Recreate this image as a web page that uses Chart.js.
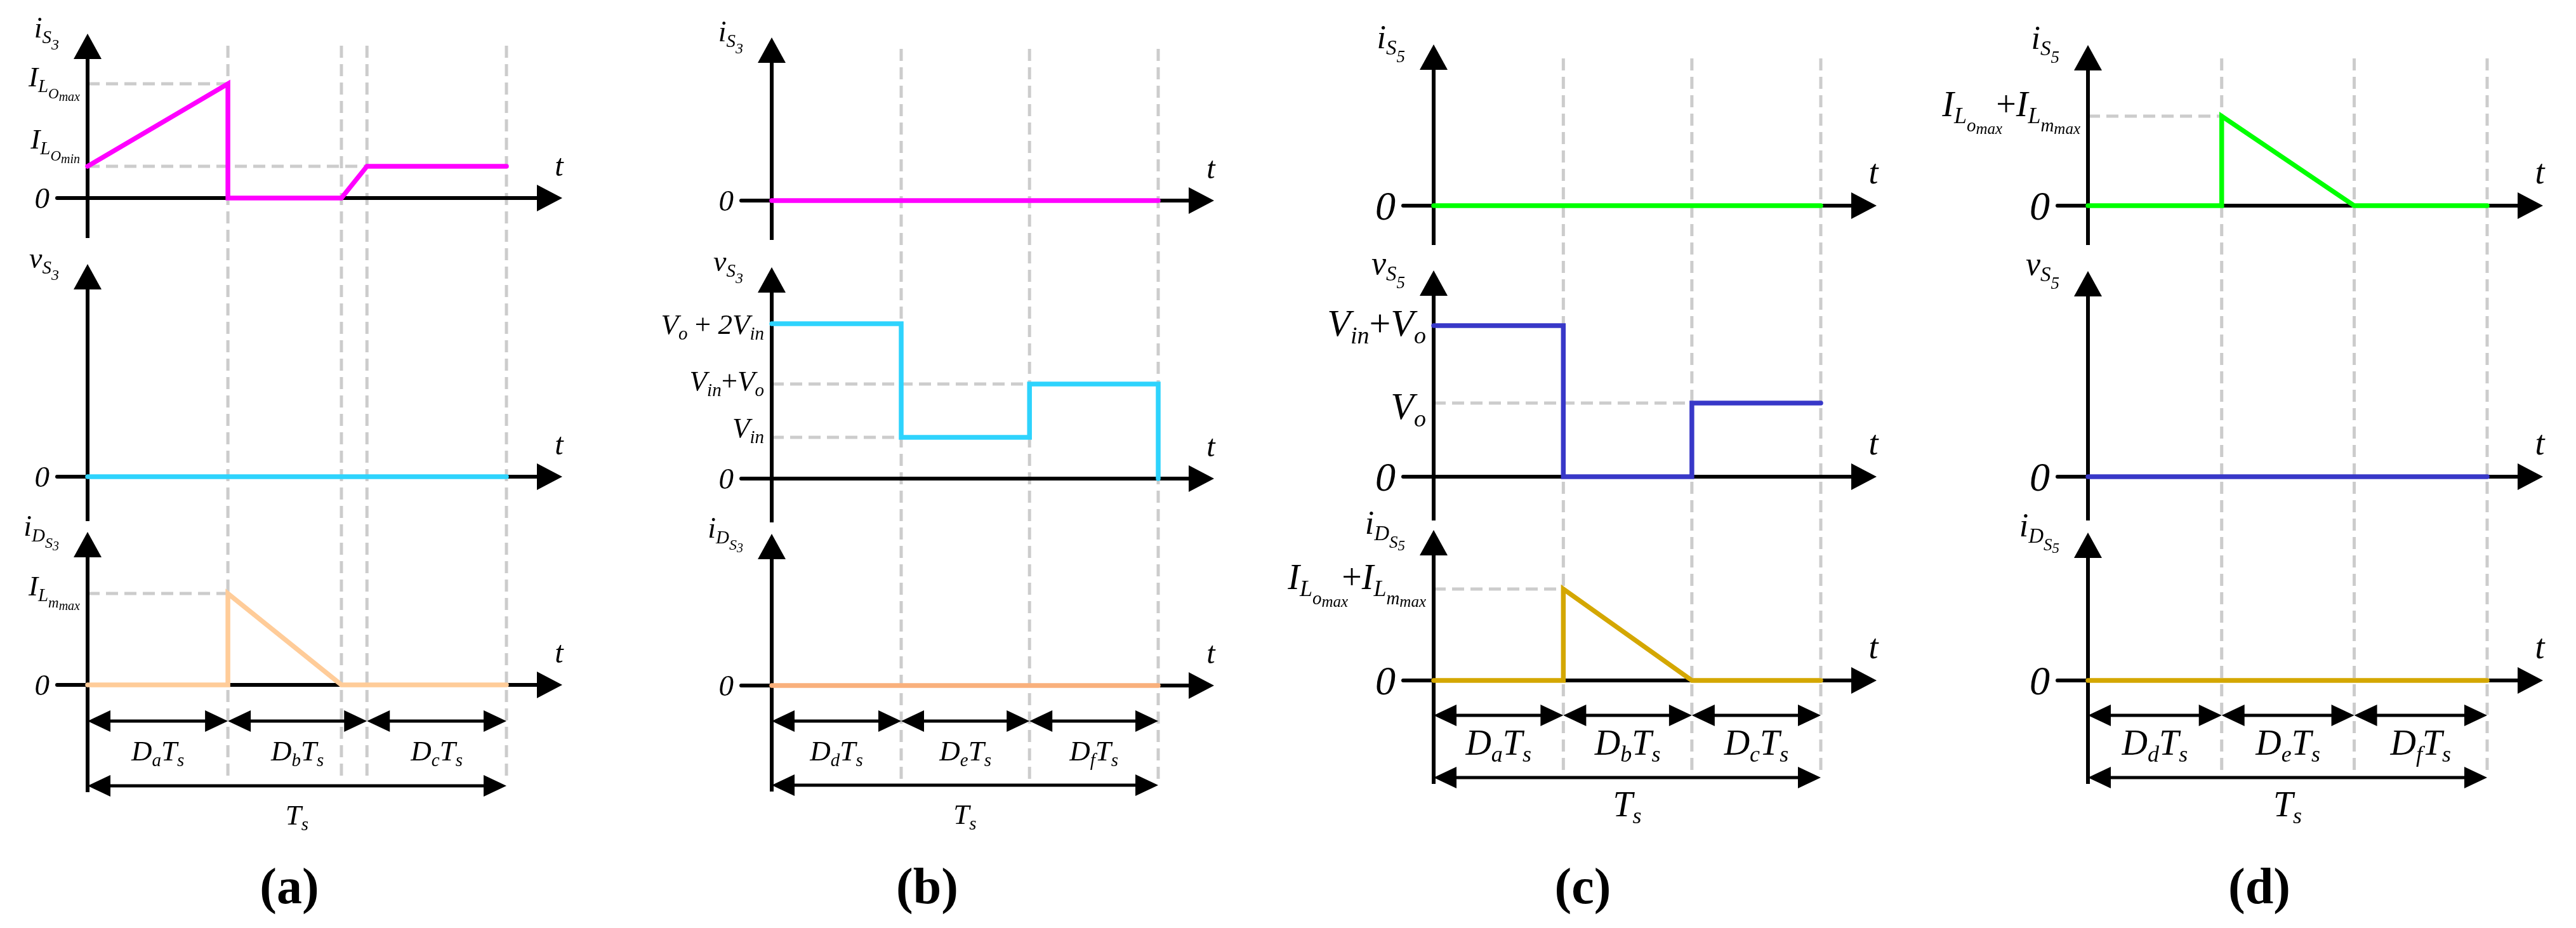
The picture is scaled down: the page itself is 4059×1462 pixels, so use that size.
<!DOCTYPE html>
<html>
<head>
<meta charset="utf-8">
<title>Switch waveforms (a)-(d)</title>
<script src="https://cdn.jsdelivr.net/npm/chart.js@4.4.1/dist/chart.umd.min.js"></script>
<style>
  html, body { margin: 0; padding: 0; background: #fff; }
  #stage { position: relative; width: 4059px; height: 1462px; overflow: hidden; background: #fff; }
  #stage canvas { position: absolute; top: 0; }
</style>
</head>
<body>
<div id="stage"></div>
<script>

// panel (a)
const tA_iS3 = [0, 0.335, 0.335, 0.606, 0.667, 1];
const yA_iS3 = [0.50, 1.80, 0, 0, 0.50, 0.50];
const tA_vS3 = [0, 1];
const yA_vS3 = [0, 0];
const tA_iD = [0, 0.335, 0.335, 0.606, 1];
const yA_iD = [0, 0, 1.44, 0, 0];

// panel (b)
const tB_iS3 = [0, 1];
const yB_iS3 = [0, 0];
const tB_vS3 = [0, 0.335, 0.335, 0.667, 0.667, 1, 1];
const yB_vS3 = [2.44, 2.44, 0.65, 0.65, 1.49, 1.49, 0];
const tB_iD = [0, 1];
const yB_iD = [0, 0];

// panel (c)
const tC_iS5 = [0, 1];
const yC_iS5 = [0, 0];
const tC_vS5 = [0, 0.335, 0.335, 0.667, 0.667, 1];
const yC_vS5 = [2.38, 2.38, 0, 0, 1.16, 1.16];
const tC_iD = [0, 0.335, 0.335, 0.667, 1];
const yC_iD = [0, 0, 1.44, 0, 0];

// panel (d)
const tD_iS5 = [0, 0.335, 0.335, 0.667, 1];
const yD_iS5 = [0, 0, 1.41, 0, 0];
const tD_vS5 = [0, 1];
const yD_vS5 = [0, 0];
const tD_iD = [0, 1];
const yD_iD = [0, 0];

// switching instants (vertical dashed guides)
const edgesA = [0.335, 0.606, 0.667, 1];
const edgesBCD = [0.335, 0.667, 1];

// sub-intervals marked under each panel
const intervals = [[0, 0.335], [0.335, 0.667], [0.667, 1]];
const namesABC = ['a', 'b', 'c'];
const namesDEF = ['d', 'e', 'f'];

// levels on the y axes
const ILoMax = 1.80, ILoMin = 0.50, ILmMax = 1.44;
const Vo2Vin = 2.44, VinVoB = 1.49, VinB = 0.65;
const VinVoC = 2.38, VoC = 1.16;
const ILsumC = 1.44, ILsumD = 1.41;

// top of each y axis (arrow tip), rows = panels, cols = top/mid/bottom plot
const yTops = [[2.59, 3.35, 2.41], [2.57, 3.33, 2.39], [2.54, 3.25, 2.37], [2.53, 3.24, 2.33]];

// label pieces: [text, level, style, kern]   level 0 = normal, 1.. = subscript depth
const T_iS3 = [['i', 0], ['S', 1], ['3', 2]];
const T_vS3 = [['v', 0], ['S', 1], ['3', 2]];
const T_iDS3 = [['i', 0], ['D', 1], ['S', 2], ['3', 3]];
const T_iS5 = [['i', 0], ['S', 1], ['5', 2]];
const T_vS5 = [['v', 0], ['S', 1], ['5', 2]];
const T_iDS5 = [['i', 0], ['D', 1], ['S', 2], ['5', 3]];
const L_ILoMax = [['I', 0], ['L', 1], ['O', 2], ['max', 3]];
const L_ILoMin = [['I', 0], ['L', 1], ['O', 2], ['min', 3]];
const L_ILmMax = [['I', 0], ['L', 1], ['m', 2], ['max', 3]];
const L_Vo2Vin = [['V', 0], ['o', 1], [' + ', 0, 'n'], ['2', 0], ['V', 0], ['in', 1]];
const L_VinVo = [['V', 0], ['in', 1], ['+', 0, 'n'], ['V', 0], ['o', 1]];
const L_Vin = [['V', 0], ['in', 1]];
const L_Vo = [['V', 0], ['o', 1]];
const L_ILsum = [['I', 0], ['L', 1], ['o', 2], ['max', 3], ['+', 0, 'n', -10], ['I', 0], ['L', 1], ['m', 2], ['max', 3]];

const MAGENTA = '#ff00ff', CYAN = '#2ed3fd', PEACH = '#ffcc99', ORANGE = '#f9b07c';
const GREEN = '#00ff00', BLUE = '#3838c8', GOLD = '#d4a700', GUIDE = '#cccccc';

const H = 1462;
const SERIF = '"Liberation Serif", "DejaVu Serif", serif';
const LV_SIZE = [1, 0.64, 0.52, 0.44];
const LV_DROP = [0, 0.2, 0.42, 0.5];

const PANELS = [
    { left: 0, width: 1000, axisX: 138, tsX: 798, dimY: 1136, tsY: 1238, guideTop: 72, capX: 456, cap: '(a)',
      edges: edgesA, names: namesABC, base: 45, title: 46, zero: 47, tSize: 48, dimSize: 45 },
    { left: 1000, width: 1000, axisX: 1216, tsX: 1825, dimY: 1136, tsY: 1237, guideTop: 77, capX: 1461, cap: '(b)',
      edges: edgesBCD, names: namesDEF, base: 45, title: 46, zero: 47, tSize: 48, dimSize: 45 },
    { left: 2000, width: 1000, axisX: 2259, tsX: 2869, dimY: 1127, tsY: 1225, guideTop: 92, capX: 2494, cap: '(c)',
      edges: edgesBCD, names: namesABC, base: 60, title: 52, zero: 64, tSize: 54, dimSize: 56 },
    { left: 3000, width: 1059, axisX: 3290, tsX: 3919, dimY: 1127, tsY: 1225, guideTop: 92, capX: 3560, cap: '(d)',
      edges: edgesBCD, names: namesDEF, base: 60, title: 52, zero: 64, tSize: 54, dimSize: 56 }
];

const SUBS = [
    [
        { t: tA_iS3, y: yA_iS3, color: MAGENTA, zeroY: 312, tipY: 53, axisBottom: 375, title: T_iS3,
          ticks: [{ v: ILoMax, lab: L_ILoMax, dy: 4 }, { v: ILoMin, lab: L_ILoMin, dy: -28 }],
          guides: [{ v: ILoMax, t: 0.335 }, { v: ILoMin, t: 0.667 }] },
        { t: tA_vS3, y: yA_vS3, color: CYAN, zeroY: 751, tipY: 416, axisBottom: 821, title: T_vS3, ticks: [], guides: [] },
        { t: tA_iD, y: yA_iD, color: PEACH, zeroY: 1079, tipY: 838, axisBottom: 1248, title: T_iDS3,
          ticks: [{ v: ILmMax, lab: L_ILmMax, dy: 3 }], guides: [{ v: ILmMax, t: 0.335 }] }
    ],
    [
        { t: tB_iS3, y: yB_iS3, color: MAGENTA, zeroY: 316, tipY: 59, axisBottom: 378, title: T_iS3, ticks: [], guides: [] },
        { t: tB_vS3, y: yB_vS3, color: CYAN, zeroY: 754, tipY: 421, axisBottom: 823, title: T_vS3,
          ticks: [{ v: Vo2Vin, lab: L_Vo2Vin, dy: 16 }, { v: VinVoB, lab: L_VinVo, dy: 10 }, { v: VinB, lab: L_Vin, dy: 0 }],
          guides: [{ v: VinVoB, t: 0.667 }, { v: VinB, t: 0.335 }] },
        { t: tB_iD, y: yB_iD, color: ORANGE, zeroY: 1080, tipY: 841, axisBottom: 1247, title: T_iDS3, ticks: [], guides: [] }
    ],
    [
        { t: tC_iS5, y: yC_iS5, color: GREEN, zeroY: 324, tipY: 70, axisBottom: 386, title: T_iS5, ticks: [], guides: [] },
        { t: tC_vS5, y: yC_vS5, color: BLUE, zeroY: 751, tipY: 426, axisBottom: 820, title: T_vS5,
          ticks: [{ v: VinVoC, lab: L_VinVo, dy: 16 }, { v: VoC, lab: L_Vo, dy: 25 }],
          guides: [{ v: VoC, t: 0.667 }] },
        { t: tC_iD, y: yC_iD, color: GOLD, zeroY: 1072, tipY: 835, axisBottom: 1235, title: T_iDS5,
          ticks: [{ v: ILsumC, lab: L_ILsum, dy: 0, size: 56 }], guides: [{ v: ILsumC, t: 0.335 }] }
    ],
    [
        { t: tD_iS5, y: yD_iS5, color: GREEN, zeroY: 324, tipY: 71, axisBottom: 386, title: T_iS5,
          ticks: [{ v: ILsumD, lab: L_ILsum, dy: 0, size: 56 }], guides: [{ v: ILsumD, t: 0.335 }] },
        { t: tD_vS5, y: yD_vS5, color: BLUE, zeroY: 751, tipY: 427, axisBottom: 820, title: T_vS5, ticks: [], guides: [] },
        { t: tD_iD, y: yD_iD, color: GOLD, zeroY: 1072, tipY: 839, axisBottom: 1235, title: T_iDS5, ticks: [], guides: [] }
    ]
];

// --- drawing helpers ---
function tokFont(size, lv, st) {
    return (st === 'n' ? '' : 'italic ') + Math.round(size * LV_SIZE[lv]) + 'px ' + SERIF;
}

function richWidth(ctx, toks, size) {
    let w = 0;
    for (const [s, lv, st, kern] of toks) {
        ctx.font = tokFont(size, lv, st);
        w += ctx.measureText(s).width + (kern || 0);
    }
    return w;
}

function drawRich(ctx, toks, x, y, size, align) {
    const w = richWidth(ctx, toks, size);
    let cx = align === 'right' ? x - w : (align === 'center' ? x - w / 2 : x);
    ctx.textAlign = 'left';
    ctx.textBaseline = 'alphabetic';
    for (const [s, lv, st, kern] of toks) {
        ctx.font = tokFont(size, lv, st);
        cx += kern || 0;
        ctx.fillText(s, cx, y + size * LV_DROP[lv]);
        cx += ctx.measureText(s).width;
    }
}

function seg(ctx, xa, ya, xb, yb) {
    ctx.beginPath();
    ctx.moveTo(xa, ya);
    ctx.lineTo(xb, yb);
    ctx.stroke();
}

// filled arrow head, tip at (x, y), pointing along (dx, dy)
function head(ctx, x, y, dx, dy, len, half) {
    ctx.beginPath();
    ctx.moveTo(x, y);
    ctx.lineTo(x - dx * len - dy * half, y - dy * len + dx * half);
    ctx.lineTo(x - dx * len + dy * half, y - dy * len - dx * half);
    ctx.closePath();
    ctx.fill();
}

function decor(p, k, sub) {
    const P = PANELS[p];
    const yTop = yTops[p][k];
    return {
        id: 'decor',
        beforeDatasetsDraw(chart) {
            const ctx = chart.ctx;
            const X = t => chart.scales.x.getPixelForValue(t);
            const Y = v => chart.scales.y.getPixelForValue(v);
            const x0 = X(0), x1 = X(1), y0 = Y(0), yt = Y(yTop);
            ctx.save();

            // dashed guides: the vertical ones run through all three plots
            ctx.strokeStyle = GUIDE;
            ctx.lineWidth = 5;
            ctx.lineCap = 'butt';
            ctx.setLineDash([19, 10]);
            const spans = [[P.guideTop, 395], [395, 830], [830, P.tsY - 8]];
            const [s, e] = spans[k];
            ctx.lineDashOffset = s - P.guideTop;
            P.edges.forEach(t => seg(ctx, X(t), s, X(t), e));
            ctx.lineDashOffset = 0;
            sub.guides.forEach(g => seg(ctx, x0, Y(g.v), X(g.t), Y(g.v)));
            ctx.setLineDash([]);

            // axes
            ctx.strokeStyle = '#000';
            ctx.fillStyle = '#000';
            ctx.lineWidth = 6;
            ctx.lineCap = 'round';
            seg(ctx, x0 - 48, y0, x1 + 60, y0);
            head(ctx, x1 + 88, y0, 1, 0, 40, 21);
            ctx.lineCap = 'butt';
            seg(ctx, x0, sub.axisBottom, x0, yt + 30);
            head(ctx, x0, yt, 0, -1, 40, 22);
            ctx.restore();
        },
        afterDatasetsDraw(chart) {
            const ctx = chart.ctx;
            const X = t => chart.scales.x.getPixelForValue(t);
            const Y = v => chart.scales.y.getPixelForValue(v);
            const x0 = X(0), x1 = X(1), y0 = Y(0), yt = Y(yTop);
            ctx.save();
            ctx.fillStyle = '#000';

            drawRich(ctx, sub.title, x0 - 45, yt + 6, P.title, 'right');
            drawRich(ctx, [['0', 0]], x0 - 60, y0 + P.zero * 0.34, P.zero, 'right');
            sub.ticks.forEach(tk => drawRich(ctx, tk.lab, x0 - 12, Y(tk.v) + tk.dy, tk.size || P.base, 'right'));
            drawRich(ctx, [['t', 0]], x1 + 83, y0 - 35, P.tSize, 'center');

            if (k === 2) {
                // D·Ts interval markers and Ts
                ctx.strokeStyle = '#000';
                ctx.lineWidth = 5;
                intervals.forEach(([a, b], i) => {
                    const xa = X(a), xb = X(b);
                    seg(ctx, xa + 10, P.dimY, xb - 10, P.dimY);
                    head(ctx, xa, P.dimY, -1, 0, 36, 17);
                    head(ctx, xb, P.dimY, 1, 0, 36, 17);
                    drawRich(ctx, [['D', 0], [P.names[i], 1], ['T', 0], ['s', 1]],
                        (xa + xb) / 2, P.dimY + 62, P.dimSize, 'center');
                });
                seg(ctx, x0 + 10, P.tsY, x1 - 10, P.tsY);
                head(ctx, x0, P.tsY, -1, 0, 36, 17);
                head(ctx, x1, P.tsY, 1, 0, 36, 17);
                drawRich(ctx, [['T', 0], ['s', 1]], (x0 + x1) / 2, P.tsY + 61, P.dimSize, 'center');

                ctx.font = 'bold 80px ' + SERIF;
                ctx.textAlign = 'center';
                ctx.textBaseline = 'alphabetic';
                ctx.fillText(P.cap, P.capX - P.left, 1423);
            }
            ctx.restore();
        }
    };
}

const stage = document.getElementById('stage');

function makeChart(p, k) {
    const P = PANELS[p];
    const sub = SUBS[p][k];
    const cv = document.createElement('canvas');
    cv.width = P.width;
    cv.height = H;
    cv.style.left = P.left + 'px';
    stage.appendChild(cv);

    return new Chart(cv, {
        type: 'line',
        data: {
            datasets: [{
                data: sub.t.map((x, i) => ({ x: x, y: sub.y[i] })),
                borderColor: sub.color,
                borderWidth: 7.5,
                borderCapStyle: 'round',
                borderJoinStyle: 'miter',
                pointRadius: 0,
                tension: 0,
                fill: false,
                clip: false
            }]
        },
        options: {
            responsive: false,
            animation: false,
            devicePixelRatio: 1,
            events: [],
            layout: {
                padding: {
                    left: P.axisX - P.left,
                    right: P.left + P.width - P.tsX,
                    top: sub.tipY,
                    bottom: H - sub.zeroY
                }
            },
            plugins: {
                legend: { display: false },
                tooltip: { enabled: false }
            },
            scales: {
                x: { type: 'linear', min: 0, max: 1, display: false },
                y: { type: 'linear', min: 0, max: yTops[p][k], display: false }
            }
        },
        plugins: [decor(p, k, sub)]
    });
}

for (let p = 0; p < 4; p++) {
    for (let k = 0; k < 3; k++) {
        makeChart(p, k);
    }
}
</script>
</body>
</html>
